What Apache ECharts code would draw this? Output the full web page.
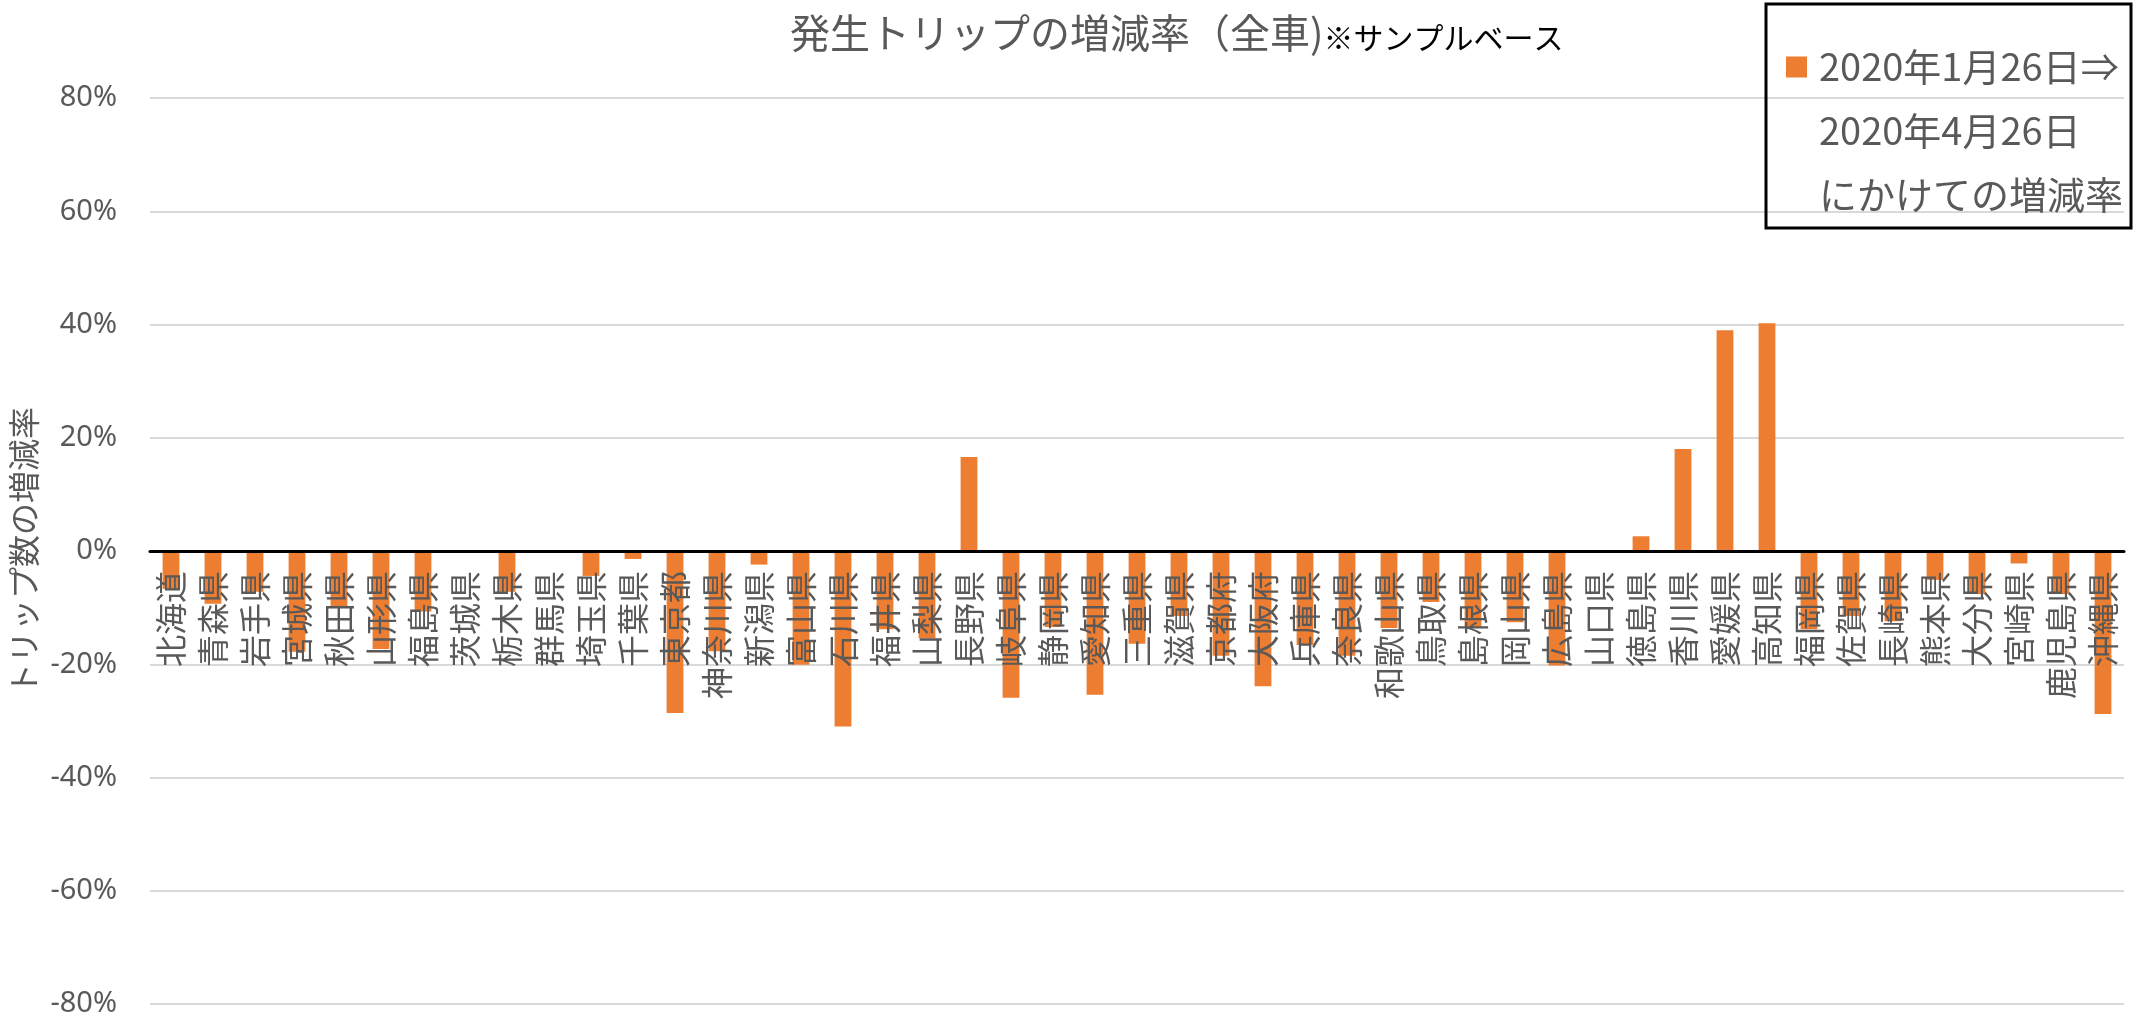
<!DOCTYPE html>
<html>
<head>
<meta charset="utf-8">
<script src="https://cdn.jsdelivr.net/npm/echarts@6/dist/echarts.min.js"></script>
<style>
html,body{margin:0;padding:0;background:#fff;}
#chart{width:2142px;height:1018px;}
</style>
</head>
<body>
<div id="chart"></div>
<script>
const prefectures = ['北海道','青森県','岩手県','宮城県','秋田県','山形県','福島県','茨城県','栃木県','群馬県','埼玉県','千葉県','東京都','神奈川県','新潟県','富山県','石川県','福井県','山梨県','長野県','岐阜県','静岡県','愛知県','三重県','滋賀県','京都府','大阪府','兵庫県','奈良県','和歌山県','鳥取県','島根県','岡山県','広島県','山口県','徳島県','香川県','愛媛県','高知県','福岡県','佐賀県','長崎県','熊本県','大分県','宮崎県','鹿児島県','沖縄県'];
const changeRate = [-6.7,-9.3,-7.2,-17.8,-10.0,-17.3,-10.7,0,-7.2,0,-4.4,-1.4,-28.6,-17.7,-2.4,-20.1,-31.0,-13.8,-15.4,16.6,-25.9,-13.4,-25.4,-16.4,-11.5,-18.5,-23.9,-16.6,-18.5,-13.6,-9.0,-13.4,-12.6,-20.2,0,2.6,18.0,39.0,40.2,-13.8,-11.5,-12.4,-5.1,-7.6,-2.2,-7.6,-28.8];
const yTicks = [-80,-60,-40,-20,0,20,40,60,80];
const seriesName = '2020年1月26日⇒\n2020年4月26日\nにかけての増減率';
const titleMain = '発生トリップの増減率（全車)';
const titleNote = '※サンプルベース';
const yName = 'トリップ数の増減率';

const CJK = '"Noto Sans CJK JP", "Noto Sans", sans-serif';
const GRID_TOP = 98, GRID_BOTTOM = 14, H = 1018;
const plotH = H - GRID_TOP - GRID_BOTTOM;
const yMin = yTicks[0], yMax = yTicks[yTicks.length-1];
// move the category axis (line + labels) from the plot bottom up to the value 0
const zeroOffset = -plotH * (0 - yMin) / (yMax - yMin);

const chart = echarts.init(document.getElementById('chart'), null, {renderer:'canvas'});
chart.setOption({
  backgroundColor: '#fff',
  animation: false,
  title: {
    text: '{a|' + titleMain + '}{b|' + titleNote + '}',
    left: 790, top: 1, padding: 0,
    textStyle: {
      fontWeight: 'normal',
      rich: {
        a: {fontFamily: CJK, fontSize: 40, fontWeight: 'normal', color: '#595959', lineHeight: 52, verticalAlign: 'bottom'},
        b: {fontFamily: CJK, fontSize: 30, fontWeight: 'normal', color: '#000', lineHeight: 52, verticalAlign: 'bottom'}
      }
    }
  },
  legend: {
    left: 1766, top: 4,
    orient: 'vertical',
    padding: [31, 8, 1, 20],
    borderColor: '#000', borderWidth: 3,
    itemWidth: 21, itemHeight: 192, itemGap: 0,
    icon: 'path://M0,0h0.01v0.01h-0.01z M0,21.5h21v21h-21z M0,191.99h0.01v0.01h-0.01z',
    itemStyle: {borderWidth: 0},
    textStyle: {fontFamily: CJK, fontSize: 38, lineHeight: 64, color: '#595959', padding: [0,0,0,7]},
    data: [seriesName]
  },
  grid: {left: 150, right: 18, top: GRID_TOP, bottom: GRID_BOTTOM, containLabel: false, outerBoundsMode: 'none'},
  xAxis: {
    type: 'category',
    data: prefectures,
    position: 'bottom',
    offset: zeroOffset,
    z: 5,
    axisLine: {onZero: false, lineStyle: {color: '#000', width: 3}},
    axisTick: {show: false},
    splitLine: {show: false},
    axisLabel: {
      interval: 0, margin: 20, rotate: 90,
      fontFamily: CJK, fontSize: 32, lineHeight: 34, color: '#595959',
      padding: [10,0,0,0]
    }
  },
  yAxis: {
    type: 'value',
    min: yMin, max: yMax, interval: 20,
    name: yName, nameLocation: 'middle', nameGap: 106,
    nameTextStyle: {fontFamily: CJK, fontSize: 32, color: '#595959'},
    axisLine: {show: false},
    axisTick: {show: false},
    axisLabel: {fontFamily: '"Noto Sans", sans-serif', fontSize: 29, color: '#595959', margin: 33, formatter: v => v + '%'},
    splitLine: {lineStyle: {color: '#d9d9d9', width: 2}}
  },
  series: [{
    name: seriesName,
    type: 'bar',
    z: 2,
    data: changeRate,
    barWidth: '40%',
    itemStyle: {color: '#ED7D31'}
  }]
});
</script>
</body>
</html>
